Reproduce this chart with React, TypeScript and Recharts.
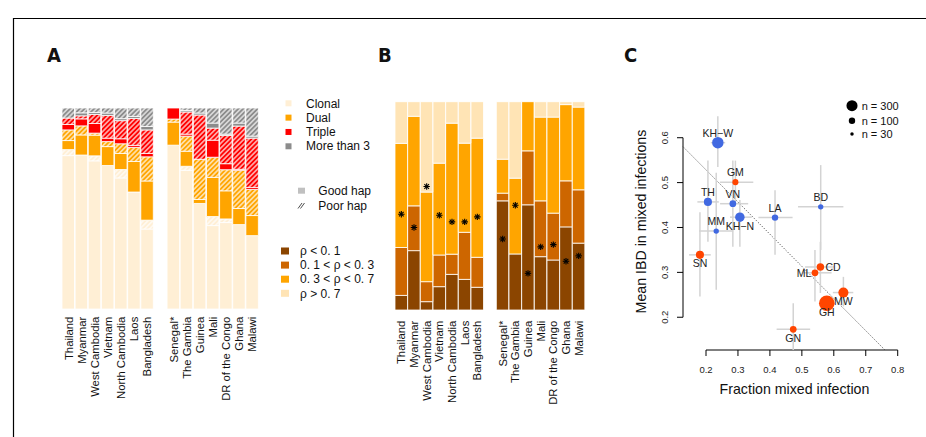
import { Bar, ComposedChart, ErrorBar, Line, ReferenceLine, Scatter, ScatterChart, XAxis, YAxis } from "recharts";

const asiaNames = ["Thailand", "Myanmar", "West Cambodia", "Vietnam", "North Cambodia", "Laos", "Bangladesh"];
const africaNames = ["Senegal*", "The Gambia", "Guinea", "Mali", "DR of the Congo", "Ghana", "Malawi"];

// panel A, fractions stacked bottom -> top (asia 7, then africa 7)
const clonalGood = [0.763, 0.766, 0.737, 0.714, 0.652, 0.582, 0.398, 0.815, 0.69, 0.525, 0.415, 0.43, 0.42, 0.365];
const clonalPoor = [0.03, 0, 0.025, 0, 0.042, 0, 0.044, 0, 0.02, 0, 0.045, 0.018, 0, 0];
const dualGood = [0.045, 0.1, 0.103, 0.094, 0.08, 0.152, 0.195, 0.115, 0.075, 0.02, 0.195, 0.14, 0.08, 0.1];
const dualPoor = [0.053, 0.045, 0.01, 0.025, 0.048, 0.07, 0.12, 0.015, 0.075, 0.2, 0.1, 0.105, 0.19, 0.13];
const tripleGood = [0.027, 0.035, 0.048, 0.017, 0.025, 0.01, 0.017, 0.055, 0.01, 0, 0.085, 0.03, 0.005, 0.01];
const triplePoor = [0.032, 0.015, 0.045, 0.113, 0.09, 0.134, 0.117, 0, 0.11, 0.22, 0.06, 0.14, 0.215, 0.245];
const moreGood = [0, 0.015, 0.01, 0.012, 0.01, 0.01, 0.017, 0, 0.008, 0.01, 0.025, 0.007, 0.015, 0.01];
const morePoor = [0.05, 0.024, 0.022, 0.025, 0.053, 0.042, 0.092, 0, 0.012, 0.025, 0.075, 0.13, 0.075, 0.14];

// panel B, rho classes bottom -> top, plus the mean (asterisk)
const rhoLow = [0.07, 0.285, 0.04, 0.112, 0.171, 0.147, 0.109, 0.524, 0.269, 0.505, 0.256, 0.24, 0.399, 0.321];
const rhoMidLow = [0.23, 0.215, 0.096, 0.152, 0.097, 0.226, 0.144, 0.037, 0, 0.259, 0.268, 0.225, 0.221, 0.256];
const rhoMidHigh = [0.5, 0.43, 0.43, 0.441, 0.629, 0.428, 0.572, 0.163, 0.364, 0.236, 0.402, 0.461, 0.366, 0.397];
const rhoHigh = [0.2, 0.07, 0.434, 0.295, 0.103, 0.199, 0.175, 0.276, 0.367, 0, 0.074, 0.074, 0.014, 0.026];
const rhoMean = [0.46, 0.396, 0.593, 0.455, 0.423, 0.423, 0.447, 0.341, 0.503, 0.176, 0.303, 0.314, 0.234, 0.26];

// panel C
const asiaCodes = ["TH", "MM", "KH−W", "VN", "KH−N", "LA", "BD"];
const asiaX = [0.206, 0.232, 0.237, 0.284, 0.306, 0.416, 0.559];
const asiaY = [0.457, 0.392, 0.589, 0.453, 0.423, 0.422, 0.446];
const asiaN = [160, 70, 320, 110, 220, 100, 70];
const asiaXLo = [0.173, 0.178, 0.215, 0.244, 0.275, 0.364, 0.488];
const asiaXHi = [0.24, 0.285, 0.26, 0.332, 0.343, 0.471, 0.63];
const asiaYLo = [0.368, 0.261, 0.535, 0.357, 0.357, 0.339, 0.35];
const asiaYHi = [0.549, 0.522, 0.648, 0.549, 0.461, 0.483, 0.539];

const africaCodes = ["SN", "GM", "GN", "ML", "CD", "GH", "MW"];
const africaX = [0.181, 0.292, 0.473, 0.541, 0.558, 0.578, 0.63];
const africaY = [0.339, 0.501, 0.173, 0.299, 0.312, 0.231, 0.255];
const africaN = [160, 90, 110, 110, 135, 590, 250];
const africaXLo = [0.147, 0.244, 0.421, 0.504, 0.51, 0.558, 0.597];
const africaXHi = [0.215, 0.348, 0.526, 0.593, 0.6, 0.598, 0.661];
const africaYLo = [0.246, 0.45, 0.127, 0.235, 0.254, 0.216, 0.224];
const africaYHi = [0.434, 0.549, 0.231, 0.35, 0.368, 0.246, 0.29];

const fitLine = [{ x: 0.128, y: 0.58 }, { x: 0.76, y: 0.127 }];
const sizeLegend = [300, 100, 30];
const xTicksC = [0.2, 0.3, 0.4, 0.5, 0.6, 0.7, 0.8];
const yTicksC = [0.2, 0.3, 0.4, 0.5, 0.6];
const labelSide: Record<string, string> = { "KH−N": "bottom", SN: "bottom", GH: "bottom", GN: "bottom", MW: "bottom", ML: "left", CD: "right" };

const FONT = "'Liberation Sans', Arial, Helvetica, sans-serif";
const CLONAL = "#FFEFD5";
const DUAL = "#FFA500";
const TRIPLE = "#FF0000";
const MORE = "#8C8C8C";
const RHO = ["#8B4500", "#CD6600", "#FFA500", "#FFE4B5"];
const BLUE = "#4169E1";
const RED = "#FF4500";

const slots = [...asiaNames, "", ...africaNames];
const pick = (arr: number[], k: number) => (k < 7 ? arr[k] : k > 7 ? arr[k - 1] : 0);

const rowsA = slots.map((name, k) => ({
  name,
  clonalGood: pick(clonalGood, k),
  clonalPoor: pick(clonalPoor, k),
  dualGood: pick(dualGood, k),
  dualPoor: pick(dualPoor, k),
  tripleGood: pick(tripleGood, k),
  triplePoor: pick(triplePoor, k),
  moreGood: pick(moreGood, k),
  morePoor: pick(morePoor, k),
}));

const rowsB = slots.map((name, k) => ({
  name,
  rhoLow: pick(rhoLow, k),
  rhoMidLow: pick(rhoMidLow, k),
  rhoMidHigh: pick(rhoMidHigh, k),
  rhoHigh: pick(rhoHigh, k),
  star: k === 7 ? null : pick(rhoMean, k),
}));

const stackA = [
  { key: "clonalGood", fill: CLONAL },
  { key: "clonalPoor", fill: "url(#hatch-clonal)" },
  { key: "dualGood", fill: DUAL },
  { key: "dualPoor", fill: "url(#hatch-dual)" },
  { key: "tripleGood", fill: TRIPLE },
  { key: "triplePoor", fill: "url(#hatch-triple)" },
  { key: "moreGood", fill: MORE },
  { key: "morePoor", fill: "url(#hatch-more)" },
];
const stackB = ["rhoLow", "rhoMidLow", "rhoMidHigh", "rhoHigh"];

const toRows = (codes: string[], xs: number[], ys: number[], ns: number[], xl: number[], xh: number[], yl: number[], yh: number[]) =>
  codes.map((code, i) => ({
    code,
    x: xs[i],
    y: ys[i],
    n: ns[i],
    ex: [xs[i] - xl[i], xh[i] - xs[i]],
    ey: [ys[i] - yl[i], yh[i] - ys[i]],
  }));

const asiaRows = toRows(asiaCodes, asiaX, asiaY, asiaN, asiaXLo, asiaXHi, asiaYLo, asiaYHi);
const africaRows = toRows(africaCodes, africaX, africaY, africaN, africaXLo, africaXHi, africaYLo, africaYHi);

const radius = (n: number) => 0.32 * Math.sqrt(n);

const CatTick = ({ x, y, payload, off }: any) =>
  payload.value ? (
    <text x={x} y={y + off} transform={`rotate(-90 ${x} ${y + off})`} textAnchor="end" dy="0.36em" fontSize={11.3} fontFamily={FONT} fill="#111">
      {payload.value}
    </text>
  ) : (
    <g />
  );

const Asterisk = ({ cx, cy, value }: any) => {
  if (value == null || cy == null || isNaN(cy)) return <g />;
  const r = 3.2;
  const d = r * 0.72;
  return (
    <g stroke="#000" strokeWidth={1.1}>
      <line x1={cx - r} y1={cy} x2={cx + r} y2={cy} />
      <line x1={cx} y1={cy - r} x2={cx} y2={cy + r} />
      <line x1={cx - d} y1={cy - d} x2={cx + d} y2={cy + d} />
      <line x1={cx - d} y1={cy + d} x2={cx + d} y2={cy - d} />
    </g>
  );
};

const Bubble = ({ cx, cy, payload, color }: any) => {
  const r = radius(payload.n);
  const side = labelSide[payload.code] ?? "top";
  let tx = cx;
  let ty = cy - 6;
  let anchor = "middle";
  if (side === "bottom") ty = cy + 12.5;
  if (side === "left") { tx = cx - 3.5; ty = cy + 3.7; anchor = "end"; }
  if (side === "right") { tx = cx + 5; ty = cy + 3.7; anchor = "start"; }
  return (
    <g>
      <circle cx={cx} cy={cy} r={r} fill={color} />
      <text x={tx} y={ty} textAnchor={anchor} fontSize={10.5} fontFamily={FONT} fill="#222">
        {payload.code}
      </text>
    </g>
  );
};

const XTickC = ({ x, y, payload }: any) => (
  <text x={x} y={y + 16.5} textAnchor="middle" fontSize={9.5} fontFamily={FONT} fill="#222">
    {payload.value.toFixed(1)}
  </text>
);

const YTickC = ({ x, y, payload }: any) => (
  <text x={x - 9} y={y} transform={`rotate(-90 ${x - 9} ${y})`} textAnchor="middle" fontSize={9.5} fontFamily={FONT} fill="#222">
    {payload.value.toFixed(1)}
  </text>
);

const hatch = (id: string, color: string) => (
  <pattern id={id} key={id} width={3.4} height={3.4} patternUnits="userSpaceOnUse" patternTransform="rotate(45)">
    <rect width={3.4} height={3.4} fill={color} />
    <line x1={1.7} y1={0} x2={1.7} y2={3.4} stroke="#fff" strokeWidth={1.1} />
  </pattern>
);

const legendA = [
  { label: "Clonal", color: CLONAL },
  { label: "Dual", color: DUAL },
  { label: "Triple", color: TRIPLE },
  { label: "More than 3", color: MORE },
];
const legendRho = ["ρ < 0. 1", "0. 1 < ρ < 0. 3", "0. 3 < ρ < 0. 7", "ρ > 0. 7"];

const Overlay = () => (
  <svg width={926} height={437} style={{ position: "absolute", left: 0, top: 0 }}>
    <defs>
      {hatch("hatch-clonal", CLONAL)}
      {hatch("hatch-dual", DUAL)}
      {hatch("hatch-triple", TRIPLE)}
      {hatch("hatch-more", MORE)}
    </defs>
    <path d="M13.5 437 V18.5 H926" fill="none" stroke="#000" strokeWidth={1.2} />
    <g fontFamily="'Liberation Sans Narrow', 'DejaVu Sans Condensed', Arial" fontWeight="bold" fontSize={20} fill="#111">
      <text x={47} y={62}>A</text>
      <text x={378} y={62}>B</text>
      <text x={624} y={62}>C</text>
    </g>
    <g fontFamily={FONT} fontSize={12} fill="#111">
      {legendA.map((d, i) => (
        <g key={d.label}>
          <rect x={285.5} y={100.3 + i * 14.33} width={6} height={6} fill={d.color} />
          <text x={306} y={103.3 + i * 14.33} dy="0.35em">{d.label}</text>
        </g>
      ))}
      <rect x={298} y={187.7} width={7} height={6} fill="#C0C0C0" />
      <text x={318.3} y={190.7} dy="0.35em">Good hap</text>
      <g stroke="#222" strokeWidth={0.8}>
        <line x1={298} y1={208.5} x2={302} y2={203} />
        <line x1={300.5} y1={208.5} x2={304.5} y2={203} />
      </g>
      <text x={318.3} y={205.7} dy="0.35em">Poor hap</text>
      {legendRho.map((t, i) => (
        <g key={t}>
          <rect x={281} y={247.5 + i * 14.1} width={8} height={7} fill={RHO[i]} />
          <text x={300} y={251 + i * 14.1} dy="0.35em">{t}</text>
        </g>
      ))}
    </g>
    <g fontFamily={FONT} fill="#111">
      <text x={646} y={221.5} transform="rotate(-90 646 221.5)" textAnchor="middle" fontSize={14.2}>
        Mean IBD in mixed infections
      </text>
      <text x={794.5} y={394} textAnchor="middle" fontSize={14.2}>
        Fraction mixed infection
      </text>
      {sizeLegend.map((n, i) => (
        <g key={n}>
          <circle cx={852} cy={[105.7, 120.7, 134][i]} r={radius(n)} fill="#000" />
          <text x={861.7} y={[105.7, 120.7, 134][i]} dy="0.35em" fontSize={11}>{`n = ${n}`}</text>
        </g>
      ))}
    </g>
  </svg>
);

export default function App() {
  return (
    <div style={{ position: "absolute", left: 0, top: 0, width: 926, height: 437, background: "#fff", overflow: "hidden" }}>
      <Overlay />
      <div style={{ position: "absolute", left: 50, top: 100 }}>
        <ComposedChart width={225} height={330} data={rowsA} margin={{ top: 8, right: 16, bottom: 11, left: 12 }}>
          <XAxis dataKey="name" interval={0} axisLine={false} tickLine={false} tickSize={0} tickMargin={0} height={110} tick={(p: any) => <CatTick {...p} off={7.7} />} />
          <YAxis hide domain={[0, 1]} allowDataOverflow />
          {stackA.map((s) => (
            <Bar key={s.key} dataKey={s.key} stackId="a" fill={s.fill} stroke="#fff" strokeWidth={0.8} barSize={12.5} isAnimationActive={false} />
          ))}
        </ComposedChart>
      </div>
      <div style={{ position: "absolute", left: 380, top: 95 }}>
        <ComposedChart width={215} height={330} data={rowsB} margin={{ top: 6.7, right: 10, bottom: 10, left: 15 }}>
          <XAxis dataKey="name" interval={0} axisLine={false} tickLine={false} tickSize={0} tickMargin={0} height={105} tick={(p: any) => <CatTick {...p} off={10.7} />} />
          <YAxis hide domain={[0, 1]} allowDataOverflow />
          {stackB.map((k, i) => (
            <Bar key={k} dataKey={k} stackId="b" fill={RHO[i]} stroke="#fff" strokeWidth={0.8} barSize={12.5} isAnimationActive={false} />
          ))}
          <Line dataKey="star" stroke="none" dot={(p: any) => <Asterisk key={p.index} {...p} />} activeDot={false} isAnimationActive={false} />
        </ComposedChart>
      </div>
      <div style={{ position: "absolute", left: 600, top: 90 }}>
        <ScatterChart width={320} height={320} margin={{ top: 21.7, right: 12.7, bottom: 30, left: 53 }}>
          <XAxis type="number" dataKey="x" domain={[0.128, 0.83]} allowDataOverflow ticks={xTicksC} axisLine={false} tickLine={{ stroke: "#000" }} tickSize={6} tickMargin={0} height={30} tick={XTickC} />
          <YAxis type="number" dataKey="y" domain={[0.127, 0.658]} allowDataOverflow ticks={yTicksC} axisLine={false} tickLine={{ stroke: "#000" }} tickSize={6} tickMargin={0} width={30} tick={YTickC} />
          <ReferenceLine segment={[{ x: 0.2, y: 0.127 }, { x: 0.8, y: 0.127 }]} stroke="#000" strokeWidth={1} ifOverflow="visible" />
          <ReferenceLine segment={[{ x: 0.128, y: 0.2 }, { x: 0.128, y: 0.6 }]} stroke="#000" strokeWidth={1} ifOverflow="visible" />
          <ReferenceLine segment={fitLine} stroke="#333" strokeWidth={0.8} strokeDasharray="1.2 1.6" ifOverflow="visible" />
          <Scatter data={asiaRows} isAnimationActive={false} shape={(p: any) => <Bubble {...p} color={BLUE} />}>
            <ErrorBar dataKey="ex" direction="x" width={0} stroke="#D3D3D3" strokeWidth={1.5} />
            <ErrorBar dataKey="ey" direction="y" width={0} stroke="#D3D3D3" strokeWidth={1.5} />
          </Scatter>
          <Scatter data={africaRows} isAnimationActive={false} shape={(p: any) => <Bubble {...p} color={RED} />}>
            <ErrorBar dataKey="ex" direction="x" width={0} stroke="#D3D3D3" strokeWidth={1.5} />
            <ErrorBar dataKey="ey" direction="y" width={0} stroke="#D3D3D3" strokeWidth={1.5} />
          </Scatter>
        </ScatterChart>
      </div>
    </div>
  );
}
